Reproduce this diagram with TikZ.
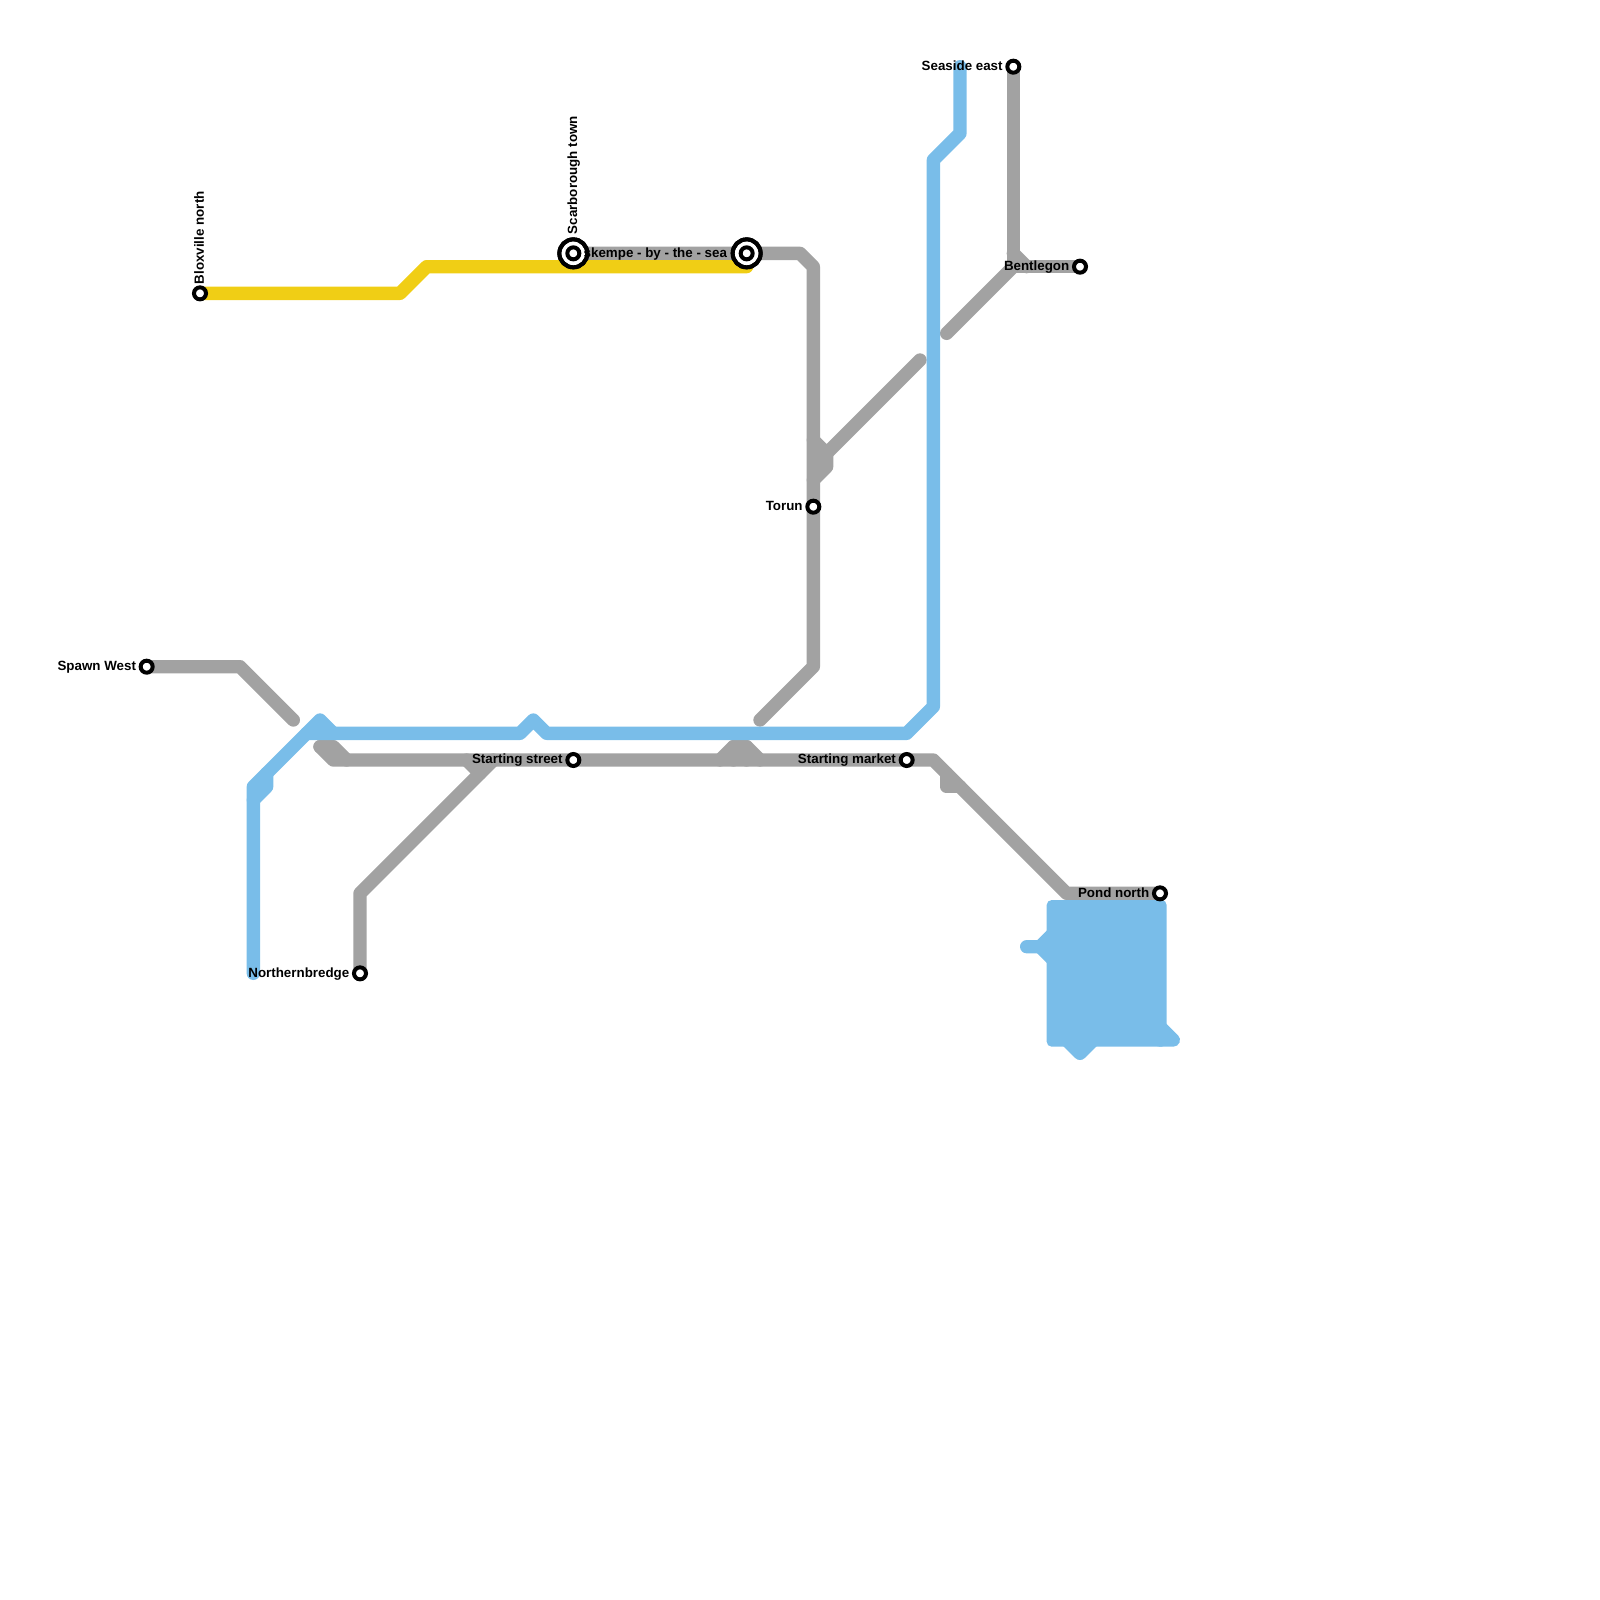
\documentclass[tikz,border=0pt]{standalone}
\usepackage{fontspec}
\setmainfont{Liberation Sans}
\usetikzlibrary{positioning, backgrounds}
\definecolor{linegrey}{HTML}{A2A2A2}
\definecolor{lineblue}{HTML}{79BDE9}
\definecolor{lineyellow}{HTML}{F0CE15}

\tikzset{
  greyline/.style={draw=linegrey,line width=0.13333cm,line cap=round,line join=round},
  blueline/.style={draw=lineblue,line width=0.13333cm,line cap=round,line join=round},
  yellowline/.style={draw=lineyellow,line width=0.13333cm,line cap=round,line join=round},
  stop/.style={circle,draw=black,fill=white,line width=0.04cm,inner sep=0pt,minimum size=0.12cm},
  bigstop/.style={circle,draw=black,fill=white,line width=0.04cm,inner sep=0pt,minimum size=0.28cm},
  stoptext/.style={font=\bfseries\fontsize{3.8pt}{4pt}\selectfont,inner sep=0pt,text=black,text height=0.1cm,text depth=0.025cm}
}

\begin{document}
\begin{tikzpicture}[x=0.13333cm,y=-0.13333cm]
    \useasboundingbox (0,0) rectangle (120,120);

    % stations
    \node[stop] (bloxville) at (15,22) {};
    \node[stop] (spawn) at (11,50) {};
    \node[stop] (northern) at (27,73) {};
    \node[stop] (street) at (43,57) {};
    \node[stop] (market) at (68,57) {};
    \node[stop] (torun) at (61,38) {};
    \node[stop] (seaside) at (76,5) {};
    \node[stop] (bentlegon) at (81,20) {};
    \node[stop] (pond) at (87,67) {};

    \coordinate (spawnend) at (22,54);
    \coordinate (mainend) at (24,56);
    \coordinate (forkend) at (37,57);
    \coordinate (forkstub) at (35,57);
    \coordinate (torunend) at (57,54);
    \coordinate (humpl) at (54,57);
    \coordinate (humpr) at (57,57);
    \coordinate (marketstub) at (71,58);
    \coordinate (knot) at (62,34);
    \coordinate (knotstub) at (61,33);
    \coordinate (knotend) at (69,27);
    \coordinate (benta) at (71,25);
    \coordinate (yellowend) at (56,20);
    \coordinate (bluetop) at (72,5);
    \coordinate (bluebottom) at (19,73);
    \coordinate (peak) at (24,54);
    \coordinate (pondl) at (77,71);
    \coordinate (pondb) at (81,79);
    \coordinate (pondr) at (88,78);

    % the two big rings come last, their labels go under them
    \node[stoptext] (streetl) [left=0.1cm of street.center] {Starting street};
    \node[stoptext] (marketl) [left=0.1cm of market.center] {Starting market};
    \node[stoptext] (torunl) [left=0.1cm of torun.center] {Torun};
    \node[stoptext] (seasidel) [left=0.1cm of seaside.center] {Seaside east};
    \node[stoptext] (bentlegonl) [left=0.1cm of bentlegon.center] {Bentlegon};
    \node[stoptext] (pondl2) [left=0.1cm of pond.center] {Pond north};
    \node[stoptext] (spawnl) [left=0.1cm of spawn.center] {Spawn West};
    \node[stoptext] (northernl) [left=0.1cm of northern.center] {Northernbredge};
    \node[stoptext,rotate=90,anchor=west] (bloxvillel) at ([yshift=0.085cm]bloxville.center) {Bloxville north};

    \node[bigstop] (scarborough) at (43,19) {};
    \node[bigstop] (skempe) at (56,19) {};
    \node[stoptext] (skempel) [left=0.19cm of skempe.center] {skempe - by - the - sea};
    \node[stoptext,rotate=90,anchor=west] (scarboroughl) at ([yshift=0.185cm]scarborough.center) {Scarborough town};
    \node[bigstop,fill=none] at (43,19) (scarring) {};
    \node[bigstop,fill=none] at (56,19) (skempering) {};
    \node[stop] (scarin) at (43,19) {};
    \node[stop] (skempein) at (56,19) {};

    \begin{pgfonlayer}{background}
      % grey
      \draw[greyline] (scarborough.center) -- (skempe.center) -- (60,19) -- (61,20) -- (torun.center) -- (61,50) -- (torunend);
      \draw[greyline] (spawn.center) -- (18,50) -- (spawnend);
      \draw[greyline] (mainend) -- (25,57) -- (street.center) -- (market.center) -- (70,57) -- (80,67) -- (pond.center);
      \draw[greyline] (mainend) -- (25,56) -- (26,57);
      \draw[greyline] (northern.center) -- (27,67) -- (forkend);
      \draw[greyline] (forkstub) -- (36,58);
      \draw[greyline] (humpl) -- (55,56) -- (56,56) -- (humpr);
      \draw[greyline] (55,56) -- (55,57);
      \draw[greyline] (56,56) -- (56,57);
      \draw[greyline] (marketstub) -- (71,59) -- (72,59);
      \draw[greyline] (knotstub) -- (knot) -- (knotend);
      \draw[greyline] (knot) -- (62,35) -- (61,36);
      \draw[greyline] (seaside.center) -- (76,20) -- (bentlegon.center);
      \draw[greyline] (76,19) -- (77,20);
      \draw[greyline] (benta) -- (76,20);
      % yellow
      \draw[yellowline] (bloxville.center) -- (30,22) -- (32,20) -- (yellowend);
      % blue
      \draw[blueline] (bluetop) -- (72,10) -- (70,12) -- (70,53) -- (68,55) -- (41,55) -- (40,54) -- (39,55) -- (23,55);
      \draw[blueline] (25,55) -- (peak) -- (19,59) -- (bluebottom);
      \draw[blueline] (20,58) -- (20,59) -- (19,60);
      \fill[lineblue,rounded corners=0.05cm] (78.5,67.5) rectangle (87.5,78.5);
      \draw[blueline] (pondl) -- (78,71) -- (79,70);
      \draw[blueline] (78,71) -- (79,72);
      \draw[blueline] (80,78) -- (pondb) -- (82,78);
      \draw[blueline] (87,77) -- (pondr) -- (87,78);
    \end{pgfonlayer}
  \end{tikzpicture}
\end{document}
